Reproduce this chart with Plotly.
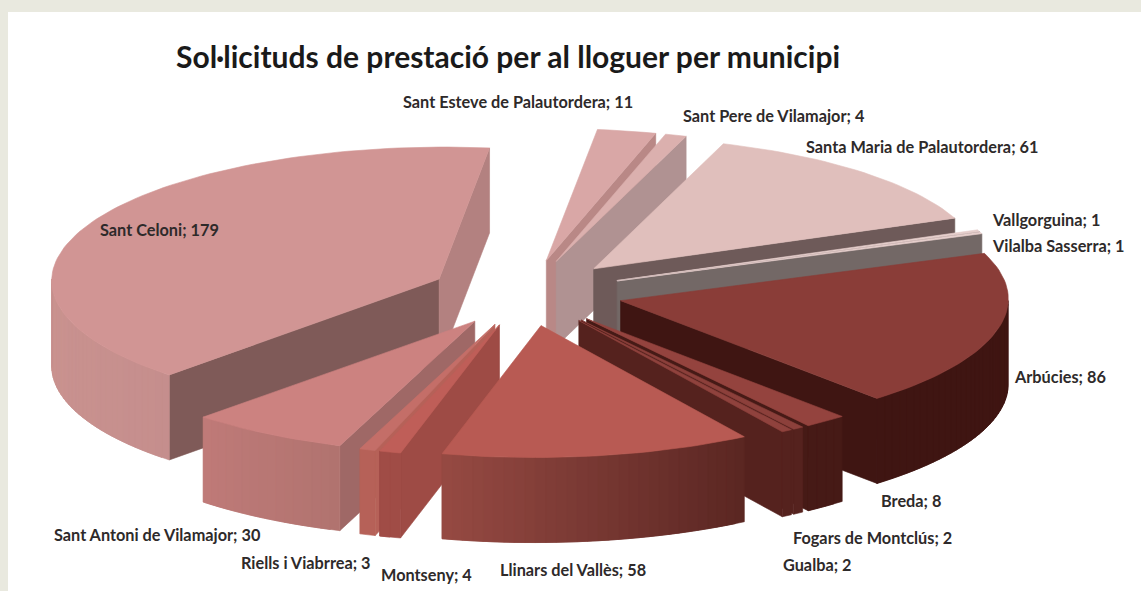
import math
import plotly.graph_objects as go

# ---- data ----
municipis = ["Arbúcies", "Breda", "Fogars de Montclús", "Gualba", "Llinars del Vallès",
             "Montseny", "Riells i Viabrrea", "Sant Antoni de Vilamajor", "Sant Celoni",
             "Sant Esteve de Palautordera", "Sant Pere de Vilamajor",
             "Santa Maria de Palautordera", "Vallgorguina", "Vilalba Sasserra"]
sollicituds = [86, 8, 2, 2, 58, 4, 3, 30, 179, 11, 4, 61, 1, 1]
titol = "Sol·licituds de prestació per al lloguer per municipi"

# ---- styles ----
top_colors = ["#8a3d38", "#94433e", "#8c403b", "#8f423d", "#b85a53", "#bf5e58", "#c46e68",
              "#cc8280", "#d19594", "#d9a7a6", "#dbb0ae", "#e0bfbc", "#e6cfcc", "#e6cfcc"]
wall_left = ["#3f1512", "#461a16", "#55221e", "#55221e", "#964a43", "#a04c46", "#b66158",
             "#bf7a78", "#c9928f", "#c9a0a0", "#c0a0a0", "#c0a0a0", "#705f5e", "#736866"]
wall_right = ["#3f1512", "#461a16", "#55221e", "#55221e", "#5a2622", "#a04c46", "#b66158",
              "#b0736f", "#c58e8d", "#c9a0a0", "#c0a0a0", "#c0a0a0", "#705f5e", "#736866"]
start_face = ["#3f1512", "#461a16", "#55221e", "#55221e", "#964a43", "#9e4b45", "#b66158",
              "#9f6866", "#7f5a58", "#b98886", "#ad8e8d", "#6e5a59", "#705f5e", "#736866"]
end_face = ["#3f1512", "#461a16", "#55221e", "#55221e", "#964a43", "#9e4b45", "#b66158",
            "#9f6866", "#b38180", "#b98886", "#b09292", "#6e5a59", "#705f5e", "#736866"]
draw_order = [9, 10, 11, 12, 13, 0, 1, 2, 3, 8, 7, 6, 5, 4]
label_x = [1012, 879, 791, 781, 498, 379, 239, 52, 98, 401, 681, 804, 990, 990]
label_y = [376, 500, 537, 564, 569, 574, 562, 534, 229, 101, 115, 146, 219, 245]

CX, CY, RX, RY, EXPLODE, DEPTH, START, SHEAR = 526.5, 293, 388, 132, 0.25, 85, 69.0, 0.04
FONT = "Lato, Carlito, 'Open Sans', sans-serif"


def hex2rgb(c):
    return [int(c[i:i + 2], 16) for i in (1, 3, 5)]


def mix(a, b, t):
    ca, cb = hex2rgb(a), hex2rgb(b)
    return "rgb(%d,%d,%d)" % tuple(round(p + (q - p) * t) for p, q in zip(ca, cb))


fig = go.Figure()


def poly(xs, ys, color):
    fig.add_trace(go.Scatter(x=xs + xs[:1], y=ys + ys[:1], mode="lines", fill="toself",
                             fillcolor=color, line=dict(color=color, width=0.6),
                             hoverinfo="skip", showlegend=False))


total = sum(sollicituds)
angles = []
a = START
for v in sollicituds:
    b = a + v / total * 360
    angles.append((a, b))
    a = b


def rim(ax, ay, deg):
    r = math.radians(deg)
    y = ay - RY * math.cos(r)
    return ax + RX * math.sin(r) - SHEAR * (y - CY), y


for i in draw_order:
    s, e = angles[i]
    mid = math.radians((s + e) / 2)
    ax = CX + EXPLODE * RX * math.sin(mid)
    ay = CY - EXPLODE * RY * math.cos(mid)
    ax -= SHEAR * (ay - CY)
    # radial cut faces
    if math.sin(math.radians(s)) < 0:
        x, y = rim(ax, ay, s)
        poly([ax, x, x, ax], [ay, y, y + DEPTH, ay + DEPTH], start_face[i])
    if math.sin(math.radians(e)) > 0:
        x, y = rim(ax, ay, e)
        poly([ax, x, x, ax], [ay, y, y + DEPTH, ay + DEPTH], end_face[i])
    # outer wall, shaded in overlapping strips
    lo, hi = max(s, 90), min(e, 270)
    if hi > lo:
        n = max(1, int((hi - lo) / 1.5))
        pts = [lo + (hi - lo) * k / n for k in range(n + 1)]
        xs_all = [rim(ax, ay, p)[0] for p in pts]
        xmin, xmax = min(xs_all), max(xs_all)
        for k in range(n):
            last = min(k + 2, n)
            arc = [rim(ax, ay, pts[j]) for j in range(k, last + 1)]
            t = ((arc[0][0] + arc[1][0]) / 2 - xmin) / max(xmax - xmin, 1e-6)
            xs = [p[0] for p in arc]
            ys = [p[1] for p in arc]
            poly(xs + xs[::-1], ys + [v + DEPTH for v in ys[::-1]],
                 mix(wall_left[i], wall_right[i], t))
    # top surface
    n = max(2, int((e - s) / 1.5))
    arc = [rim(ax, ay, s + (e - s) * k / n) for k in range(n + 1)]
    poly([ax] + [p[0] for p in arc], [ay] + [p[1] for p in arc], top_colors[i])

annotations = [dict(x=label_x[i], y=label_y[i], text=f"{m}; {sollicituds[i]}", showarrow=False,
                    xanchor="left", yanchor="middle", xref="x", yref="y",
                    font=dict(family=FONT, size=16.3, color="#2e2a2a", weight="bold"))
               for i, m in enumerate(municipis)]
annotations.append(dict(x=174, y=56, text=titol, showarrow=False, xanchor="left", yanchor="middle",
                        xref="x", yref="y", font=dict(family=FONT, size=30, color="#1a1a1a", weight="bold")))

fig.update_layout(
    width=1141, height=591, margin=dict(l=0, r=0, t=0, b=0),
    paper_bgcolor="#e9e9df", plot_bgcolor="#e9e9df",
    xaxis=dict(range=[0, 1141], visible=False, fixedrange=True),
    yaxis=dict(range=[591, 0], visible=False, fixedrange=True),
    shapes=[dict(type="rect", xref="x", yref="y", x0=8, y0=12, x1=1141, y1=591,
                 fillcolor="white", line_width=0, layer="below")],
    annotations=annotations,
)
fig.write_html("out.html", config=dict(displayModeBar=False),
               post_script="document.body.style.margin='0';document.body.style.overflow='hidden';")
